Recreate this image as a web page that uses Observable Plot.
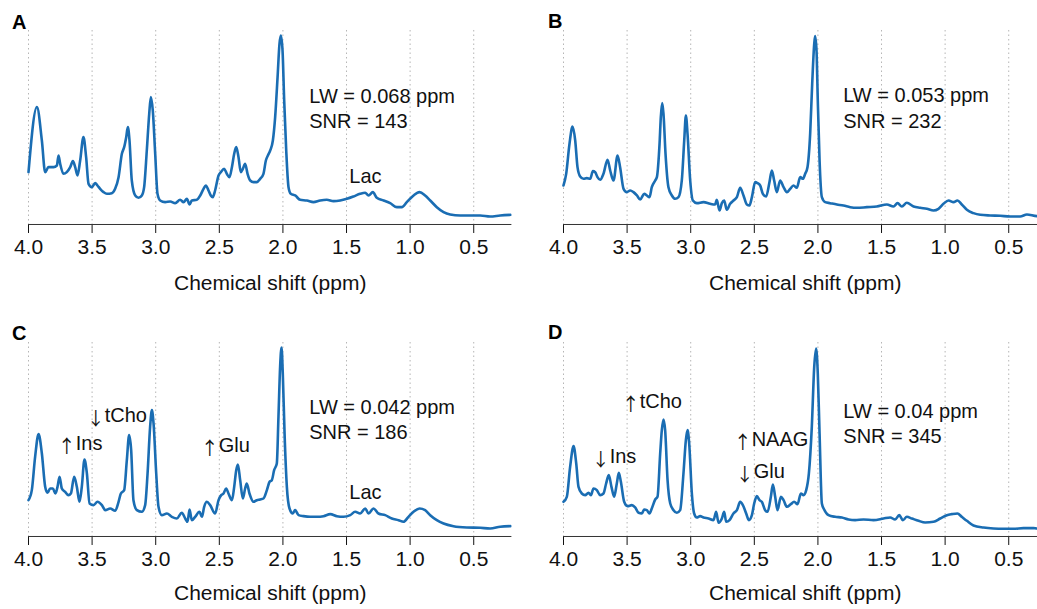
<!DOCTYPE html>
<html><head><meta charset="utf-8">
<script src="https://cdn.jsdelivr.net/npm/d3@7"></script>
<script src="https://cdn.jsdelivr.net/npm/@observablehq/plot@0.6"></script>
<style>
html,body{margin:0;padding:0;background:#fff;overflow:hidden;width:1037px;height:609px;}
#wrap{position:relative;width:1037px;height:609px;overflow:hidden;font-family:"Liberation Sans",Arial,Helvetica,sans-serif;}
.panel{position:absolute;}
.letter{position:absolute;font-weight:bold;font-size:20px;line-height:20px;color:#000;}
</style></head><body><div id="wrap"></div>
<script>
// chemical shift ticks (ppm)
const ppmTicks = [4.0, 3.5, 3.0, 2.5, 2.0, 1.5, 1.0, 0.5];
const panelLetters = ["A", "B", "C", "D"];
const axisTitle = "Chemical shift (ppm)";

// Panel A spectrum (ppm, intensity a.u.)
const ppmA = [4.000,3.934,3.895,3.869,3.843,3.803,3.777,3.764,3.751,3.725,
3.699,3.672,3.651,3.633,3.615,3.594,3.568,3.547,3.528,3.502,
3.476,3.458,3.437,3.410,3.384,3.345,3.319,3.292,3.266,3.248,
3.232,3.219,3.206,3.188,3.161,3.135,3.109,3.091,3.070,3.051,
3.038,3.023,3.004,2.986,2.965,2.926,2.886,2.847,2.808,2.781,
2.755,2.734,2.716,2.677,2.650,2.624,2.606,2.585,2.567,2.551,
2.533,2.506,2.488,2.462,2.441,2.420,2.401,2.383,2.367,2.349,
2.331,2.315,2.297,2.278,2.257,2.231,2.205,2.179,2.153,2.134,
2.118,2.100,2.079,2.061,2.042,2.027,2.016,2.003,1.990,1.974,
1.956,1.938,1.904,1.864,1.812,1.760,1.707,1.655,1.602,1.550,
1.497,1.445,1.393,1.353,1.327,1.293,1.262,1.209,1.157,1.104,
1.065,1.026,0.973,0.926,0.882,0.842,0.790,0.737,0.685,0.606,
0.528,0.449,0.371,0.292,0.213];
const intensityA = [157,352,252,157,172,172,177,207,182,152,
157,172,190,172,147,192,262,202,122,112,
124,117,107,97,92,94,107,142,212,232,
262,292,252,132,87,80,87,112,222,332,
382,342,212,92,72,67,69,64,74,67,
77,60,72,74,87,107,117,102,87,82,
102,147,157,167,152,142,172,212,232,202,
157,167,182,152,132,127,127,137,152,192,
207,222,252,322,442,542,567,522,372,222,
112,92,87,74,72,67,72,74,70,72,
77,84,92,95,87,97,80,72,64,52,
52,67,87,97,87,72,52,37,30,27,
27,27,24,27,29];

// Panel B spectrum
const ppmB = [4.000,3.979,3.953,3.929,3.908,3.890,3.869,3.843,3.817,3.790,
3.769,3.751,3.733,3.712,3.686,3.654,3.633,3.607,3.575,3.555,
3.528,3.502,3.476,3.450,3.423,3.397,3.366,3.345,3.324,3.306,
3.279,3.266,3.245,3.235,3.224,3.214,3.198,3.175,3.148,3.122,
3.096,3.070,3.051,3.038,3.025,3.004,2.983,2.952,2.899,2.847,
2.808,2.795,2.774,2.755,2.737,2.716,2.690,2.664,2.637,2.611,
2.585,2.559,2.538,2.519,2.493,2.475,2.454,2.433,2.407,2.381,
2.362,2.344,2.323,2.297,2.270,2.244,2.218,2.192,2.166,2.139,
2.118,2.100,2.082,2.061,2.045,2.029,2.022,2.011,2.001,1.987,
1.969,1.943,1.904,1.851,1.799,1.746,1.694,1.615,1.537,1.458,
1.406,1.374,1.340,1.301,1.248,1.196,1.144,1.091,1.052,1.013,
0.973,0.934,0.903,0.869,0.829,0.777,0.724,0.646,0.567,0.489,
0.410,0.357,0.279,0.240,0.200];
const intensityB = [117,152,242,294,252,172,144,137,139,137,
160,157,142,134,152,194,162,132,207,172,
107,97,102,97,87,75,92,87,82,112,
132,142,242,322,364,332,212,112,87,77,
82,132,252,327,272,132,72,64,67,62,
60,74,42,64,72,44,62,72,82,110,
87,60,57,82,127,124,117,92,84,127,
162,132,97,132,112,97,107,117,110,142,
137,152,172,272,422,542,565,522,372,192,
82,67,64,60,57,52,50,52,54,60,
54,64,54,65,54,50,47,42,47,62,
72,67,72,60,44,34,29,27,26,24,
24,30,25,26,25];

// Panel C spectrum
const ppmC = [4.000,3.974,3.948,3.921,3.895,3.869,3.851,3.830,3.809,3.788,
3.772,3.756,3.738,3.712,3.686,3.667,3.641,3.620,3.599,3.581,
3.560,3.541,3.520,3.489,3.458,3.423,3.397,3.358,3.319,3.292,
3.274,3.248,3.227,3.209,3.193,3.175,3.148,3.109,3.083,3.064,
3.044,3.030,3.017,2.996,2.978,2.952,2.912,2.873,2.834,2.795,
2.768,2.750,2.734,2.716,2.690,2.656,2.637,2.619,2.598,2.572,
2.533,2.506,2.485,2.467,2.446,2.428,2.401,2.383,2.367,2.354,
2.336,2.315,2.297,2.284,2.263,2.231,2.205,2.179,2.153,2.126,
2.105,2.087,2.069,2.048,2.035,2.022,2.011,2.001,1.987,1.969,
1.948,1.922,1.904,1.877,1.838,1.786,1.733,1.681,1.628,1.576,
1.524,1.471,1.432,1.393,1.353,1.327,1.288,1.249,1.196,1.144,
1.091,1.052,1.013,0.973,0.926,0.882,0.842,0.790,0.737,0.659,
0.554,0.449,0.371,0.292,0.213];
const intensityC = [109,139,239,307,249,149,131,144,144,129,
149,179,144,134,124,129,179,149,104,149,
231,189,99,94,104,94,79,84,77,104,
129,139,229,304,259,109,79,74,94,189,
329,379,339,189,89,64,69,59,54,71,
54,44,81,49,59,74,59,89,104,94,
69,109,124,129,144,129,109,149,199,216,
169,114,144,159,129,104,109,111,114,139,
164,169,199,219,359,509,567,489,309,149,
84,69,79,64,61,59,59,61,67,61,
59,64,74,69,84,69,84,69,64,54,
49,44,59,74,84,79,64,49,39,31,
27,26,24,29,31];

// Panel D spectrum
const ppmD = [4.000,3.974,3.948,3.921,3.900,3.882,3.856,3.830,3.803,3.785,
3.764,3.738,3.712,3.686,3.665,3.644,3.623,3.602,3.581,3.565,
3.549,3.523,3.497,3.463,3.437,3.410,3.384,3.366,3.345,3.324,
3.306,3.279,3.261,3.240,3.227,3.214,3.201,3.182,3.161,3.135,
3.109,3.083,3.057,3.038,3.025,3.012,2.991,2.973,2.952,2.926,
2.899,2.860,2.821,2.800,2.781,2.755,2.737,2.721,2.695,2.664,
2.637,2.611,2.590,2.564,2.543,2.519,2.501,2.480,2.459,2.441,
2.415,2.396,2.370,2.354,2.336,2.318,2.291,2.270,2.244,2.213,
2.187,2.160,2.134,2.113,2.092,2.071,2.048,2.029,2.014,2.001,
1.987,1.969,1.951,1.917,1.864,1.812,1.759,1.707,1.642,1.563,
1.484,1.432,1.393,1.361,1.332,1.301,1.262,1.209,1.157,1.091,
1.039,0.986,0.947,0.903,0.869,0.829,0.777,0.698,0.620,0.541,
0.462,0.384,0.305,0.279,0.220];
const intensityD = [104,119,209,271,219,149,129,124,131,124,
144,139,124,129,159,184,149,119,159,191,
164,104,91,94,87,71,69,81,79,69,
84,111,119,249,319,351,319,169,99,79,
71,79,189,289,319,279,129,69,57,61,
57,54,49,74,41,54,74,44,49,69,
79,104,94,69,49,64,99,121,109,104,
79,74,119,156,119,79,119,109,89,97,
104,97,129,124,139,189,329,509,564,489,
309,99,81,64,59,57,51,49,51,49,
54,57,51,64,49,59,54,47,42,44,
54,64,67,69,59,47,33,27,24,23,
23,25,25,24,24];

// Annotations: label text, anchor ppm, height (a.u.), alignment
const notesA = [
  {label: "LW = 0.068 ppm", ppm: 1.793, v: 385, align: "start"},
  {label: "SNR = 143", ppm: 1.793, v: 310, align: "start"},
  {label: "Lac", ppm: 1.351, v: 145, align: "middle"}
];
const notesB = [
  {label: "LW = 0.053 ppm", ppm: 1.801, v: 387, align: "start"},
  {label: "SNR = 232", ppm: 1.801, v: 309, align: "start"}
];
const notesC = [
  {label: "LW = 0.042 ppm", ppm: 1.793, v: 386, align: "start"},
  {label: "SNR = 186", ppm: 1.793, v: 311, align: "start"},
  {label: "Lac", ppm: 1.351, v: 131, align: "middle"},
  {label: "↑Ins", ppm: 3.735, v: 280, align: "start"},
  {label: "↓tCho", ppm: 3.507, v: 364, align: "start"},
  {label: "↑Glu", ppm: 2.611, v: 274, align: "start"}
];
const notesD = [
  {label: "LW = 0.04 ppm", ppm: 1.800, v: 375, align: "start"},
  {label: "SNR = 345", ppm: 1.800, v: 300, align: "start"},
  {label: "↑tCho", ppm: 3.507, v: 404, align: "start"},
  {label: "↓Ins", ppm: 3.743, v: 239, align: "start"},
  {label: "↑NAAG", ppm: 2.627, v: 292, align: "start"},
  {label: "↓Glu", ppm: 2.611, v: 194, align: "start"}
];

const FONT = '"Liberation Sans", Arial, Helvetica, sans-serif';
const ARROW_FONT = '"Noto Sans CJK JP", "DejaVu Sans", sans-serif';
const BLUE = "#1a6db3";
const SVGNS = "http://www.w3.org/2000/svg";
const wrap = document.getElementById("wrap");

// render the leading arrow glyph of a label in a thin, tall arrow font
function styleArrows(svg) {
  svg.querySelectorAll("text").forEach(t => {
    const s = t.textContent;
    if (t.children.length === 0 && (s.startsWith("↑") || s.startsWith("↓"))) {
      t.textContent = "";
      const a = document.createElementNS(SVGNS, "tspan");
      a.setAttribute("font-family", ARROW_FONT);
      a.setAttribute("font-size", "18");
      a.setAttribute("dx", "-4.5");
      a.setAttribute("dy", "3");
      a.textContent = s[0];
      const b = document.createElementNS(SVGNS, "tspan");
      b.setAttribute("dy", "-3");
      b.textContent = s.slice(1);
      t.appendChild(a);
      t.appendChild(b);
    }
  });
}

function panel(ppm, intensity, notes, left, top, height, marginTop, marginBottom, titleDy) {
  const data = ppm.map((p, i) => ({ppm: p, v: intensity[i]}));
  const mL = 28, mR = 10, innerW = 483.4;
  const chart = Plot.plot({
    width: mL + innerW + mR,
    height,
    marginLeft: mL, marginRight: mR, marginTop, marginBottom,
    x: {domain: [4.0, 0.2], ticks: ppmTicks, tickFormat: d3.format(".1f"), tickSize: 9, tickPadding: 6, label: null},
    y: {domain: [0, 582], axis: null},
    style: {fontFamily: FONT, fontSize: "21px", color: "#111", background: "transparent", overflow: "visible"},
    marks: [
      Plot.ruleX(ppmTicks, {stroke: "#b5b5b5", strokeDasharray: "1.5,3", strokeWidth: 1}),
      Plot.ruleY([0], {stroke: "#333", strokeWidth: 1}),
      Plot.line(data, {x: "ppm", y: "v", stroke: BLUE, strokeWidth: 2.6, strokeLinejoin: "round", curve: "monotone-x"}),
      Plot.text(notes.filter(d => d.align === "start"), {x: "ppm", y: "v", text: "label", textAnchor: "start", fontSize: 20, fill: "#111"}),
      Plot.text(notes.filter(d => d.align === "middle"), {x: "ppm", y: "v", text: "label", textAnchor: "middle", fontSize: 20, fill: "#111"}),
      Plot.text([axisTitle], {frameAnchor: "bottom", lineAnchor: "middle", dy: titleDy, fontSize: 21, fill: "#111"})
    ]
  });
  styleArrows(chart);
  chart.classList.add("panel");
  chart.style.left = left + "px";
  chart.style.top = top + "px";
  wrap.appendChild(chart);
}

panel(ppmA, intensityA, notesA, 0.3, 0, 300, 30, 76, 58.5);
panel(ppmB, intensityB, notesB, 535.3, 0, 300, 30, 76, 58.5);
panel(ppmC, intensityC, notesC, 0.3, 300, 309, 42, 73, 57);
panel(ppmD, intensityD, notesD, 535.3, 300, 309, 42, 73, 57);

const letterPos = [[12, 12.4], [548, 10.7], [12, 323.4], [548, 322.4]];
panelLetters.forEach((t, i) => {
  const d = document.createElement("div");
  d.className = "letter";
  d.textContent = t;
  d.style.left = letterPos[i][0] + "px";
  d.style.top = letterPos[i][1] + "px";
  wrap.appendChild(d);
});
</script>
</body></html>
